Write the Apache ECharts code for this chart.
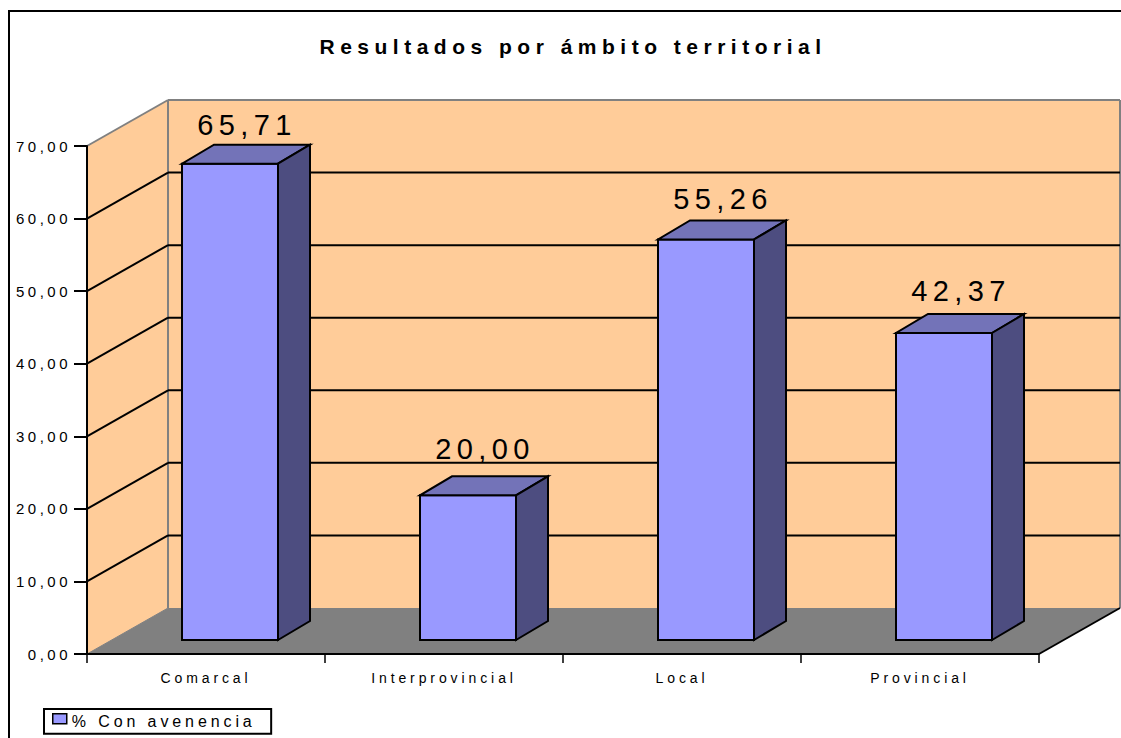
<!DOCTYPE html>
<html>
<head>
<meta charset="utf-8">
<title>Resultados por ámbito territorial</title>
<script src="https://cdn.jsdelivr.net/npm/echarts@6/dist/echarts.min.js"></script>
<style>
  html, body { margin: 0; padding: 0; background: #fff; }
  #main { width: 1121px; height: 738px; }
  /* el original lleva las letras muy separadas */
  #main text[style*="21px"] { letter-spacing: 5.5px; }
  #main text[style*="29px"] { letter-spacing: 5.4px; }
  #main text[style*="16px"] { letter-spacing: 3.9px; }
  #main text[style*="15px"] { letter-spacing: 3.5px; }
  #main text[style*="14px"] { letter-spacing: 3.9px; }
</style>
</head>
<body>
<div id="main"></div>
<script>
const titulo = "Resultados por ámbito territorial";
const categorias = ["Comarcal", "Interprovincial", "Local", "Provincial"];
const nombreSerie = "% Con avenencia";
const valores = [65.71, 20.00, 55.26, 42.37];
const lineasGuia = [10, 20, 30, 40, 50, 60];

const FUENTE = '"Liberation Sans", Arial, sans-serif';
const fondoX = 81, fondoY = 46;    // profundidad del suelo
const barraX = 24, barraY = 14;    // separacion de la barra respecto al frente
const ladoX = 32, ladoY = 19;      // profundidad de la barra
const anchoBarra = 96;
const subidaEtiqueta = [20, 27, 21, 23]; // las etiquetas no van a la misma altura en el original

const coma = (v) => v.toFixed(2).replace(".", ",");

function poligono(points, fill, stroke, lineWidth) {
  return {
    type: "polygon",
    shape: { points: points },
    style: { fill: fill, stroke: stroke || null, lineWidth: lineWidth || 0 },
  };
}

function linea(x1, y1, x2, y2, color, w) {
  return {
    type: "line",
    shape: { x1: x1, y1: y1, x2: x2, y2: y2 },
    style: { stroke: color, lineWidth: w },
  };
}

// paredes y suelo
function pintarParedes(params, api) {
  const paso = api.size([1, 0])[0];
  const x0 = api.coord([0, 0])[0] - paso / 2;
  const x1 = x0 + paso * categorias.length;
  const y0 = api.coord([0, 0])[1];
  const yT = api.coord([0, 70])[1];
  const gris = "#808080";
  return {
    type: "group",
    children: [
      poligono([[x0, y0], [x0 + fondoX, y0 - fondoY], [x0 + fondoX, yT - fondoY], [x0, yT]], "#FFCC99"),
      poligono([[x0 + fondoX, y0 - fondoY], [x1 + fondoX, y0 - fondoY], [x1 + fondoX, yT - fondoY], [x0 + fondoX, yT - fondoY]], "#FFCC99"),
      poligono([[x0, y0], [x1, y0], [x1 + fondoX, y0 - fondoY], [x0 + fondoX, y0 - fondoY]], gris),
      linea(x0 + fondoX, yT - fondoY, x1 + fondoX, yT - fondoY, gris, 2),
      linea(x1 + fondoX, yT - fondoY, x1 + fondoX, y0 - fondoY, gris, 2),
      linea(x0, yT, x0 + fondoX, yT - fondoY, gris, 2),
      linea(x0 + fondoX, yT - fondoY, x0 + fondoX, y0 - fondoY, gris, 2),
      linea(x0, y0, x0 + fondoX, y0 - fondoY, gris, 1),
      linea(x1, y0, x1 + fondoX, y0 - fondoY, "#000", 2),
    ],
  };
}

function pintarGuia(params, api) {
  const paso = api.size([1, 0])[0];
  const x0 = api.coord([0, 0])[0] - paso / 2;
  const x1 = x0 + paso * categorias.length;
  const y = api.coord([0, api.value(1)])[1];
  return {
    type: "group",
    children: [
      linea(x0, y, x0 + fondoX, y - fondoY, "#000", 2),
      linea(x0 + fondoX, y - fondoY, x1 + fondoX, y - fondoY, "#000", 2),
    ],
  };
}

function pintarBarra(params, api) {
  const base = api.coord([api.value(0), 0]);
  const tope = api.coord([api.value(0), api.value(1)]);
  const xI = base[0] + barraX - anchoBarra / 2;
  const xD = xI + anchoBarra;
  const yB = base[1] - barraY;
  const yT = tope[1] - barraY + 0.5;
  const borde = "#000";
  return {
    type: "group",
    children: [
      poligono([[xI, yB], [xD, yB], [xD, yT], [xI, yT]], "#9999FF", borde, 2),
      poligono([[xI, yT], [xD, yT], [xD + ladoX, yT - ladoY], [xI + ladoX, yT - ladoY]], "#7373B8", borde, 2),
      poligono([[xD, yB], [xD + ladoX, yB - ladoY], [xD + ladoX, yT - ladoY], [xD, yT]], "#4D4D80", borde, 2),
      {
        type: "text",
        style: {
          text: coma(api.value(1)),
          x: (xI + xD) / 2 + 17,
          y: yT - ladoY - subidaEtiqueta[params.dataIndex],
          fill: "#000",
          font: "29px " + FUENTE,
          align: "center",
          verticalAlign: "middle",
        },
      },
    ],
  };
}

const chart = echarts.init(document.getElementById("main"), null, { renderer: "svg" });

chart.setOption({
  animation: false,
  backgroundColor: "#fff",
  title: {
    text: titulo,
    left: 568,
    top: 31,
    textAlign: "center",
    textStyle: { color: "#000", fontFamily: FUENTE, fontWeight: "bold", fontSize: 21 },
  },
  legend: {
    left: 44,
    top: 709,
    padding: [4, 74, 4, 8],
    itemGap: 0,
    itemWidth: 14,
    itemHeight: 10,
    borderColor: "#000",
    borderWidth: 2,
    data: [{
      name: nombreSerie,
      icon: "rect",
      itemStyle: { color: "#9999FF", borderColor: "#000", borderWidth: 1.5 },
    }],
    formatter: "{a|{name}}",
    textStyle: {
      color: "#000",
      fontFamily: FUENTE,
      fontSize: 16,
      rich: { a: { color: "#000", fontFamily: FUENTE, fontSize: 16, padding: [6, 0, 0, 0] } },
    },
  },
  grid: { left: 87, right: 82, top: 146, bottom: 84 },
  xAxis: {
    type: "category",
    data: categorias,
    z: 5,
    axisLine: { lineStyle: { color: "#000", width: 2 } },
    axisTick: { show: true, length: 9, alignWithLabel: false, lineStyle: { color: "#000", width: 1.5 } },
    axisLabel: { color: "#000", fontFamily: FUENTE, fontSize: 14, margin: 17, interval: 0 },
    splitLine: { show: false },
  },
  yAxis: {
    type: "value",
    min: 0,
    max: 70,
    interval: 10,
    z: 5,
    axisLine: { show: true, lineStyle: { color: "#000", width: 2 } },
    axisTick: { show: true, length: 13, lineStyle: { color: "#000", width: 2 } },
    axisLabel: { color: "#000", fontFamily: FUENTE, fontSize: 15, margin: 16, formatter: coma },
    splitLine: { show: false },
  },
  series: [
    { type: "custom", silent: true, z: 1, renderItem: pintarParedes, data: [[0, 0]], encode: { x: 0, y: 1 } },
    { type: "custom", silent: true, z: 2, renderItem: pintarGuia, data: lineasGuia.map((v) => [0, v]), encode: { x: 0, y: 1 } },
    {
      name: nombreSerie,
      type: "custom",
      z: 3,
      renderItem: pintarBarra,
      data: valores.map((v, i) => [i, v]),
      encode: { x: 0, y: 1 },
      itemStyle: { color: "#9999FF" },
    },
  ],
  graphic: [{
    type: "rect",
    z: 10,
    silent: true,
    shape: { x: 9, y: 11, width: 1300, height: 900 },
    style: { fill: null, stroke: "#000", lineWidth: 2 },
  }],
});
</script>
</body>
</html>
